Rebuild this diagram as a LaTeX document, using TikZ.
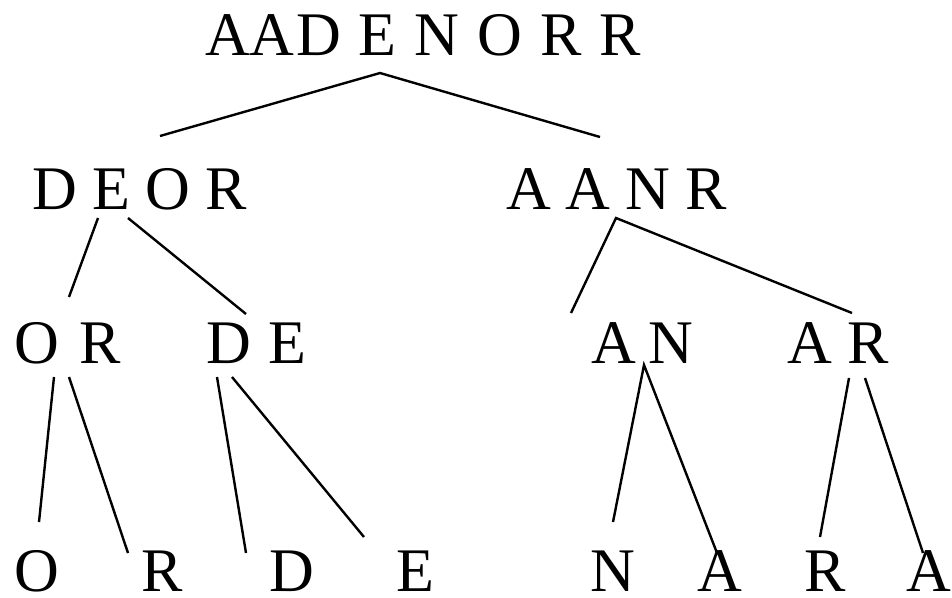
\documentclass[tikz,border=0pt]{standalone}
\usepackage{fontspec}
\setmainfont{Liberation Serif}
\begin{document}
\begin{tikzpicture}[x=1pt,y=-1pt,
  lbl/.style={anchor=base west,inner sep=0pt,outer sep=0pt,font=\fontsize{62}{70}\selectfont},
  edge/.style={line width=2.4pt,black}]
\useasboundingbox (0,0) rectangle (952,597);
% labels
\node[lbl] (root) at (205,55) {A\hspace{0pt}A\hspace{1.5pt}D\hspace{18pt}E\hspace{18pt}N\hspace{18pt}O\hspace{18pt}R\hspace{18pt}R};
\node[lbl] (deor) at (32,209) {D\hspace{15.5pt}E\hspace{15.5pt}O\hspace{15.5pt}R};
\node[lbl] (aanr) at (506,209) {A\hspace{15.2pt}A\hspace{15.2pt}N\hspace{15.2pt}R};
\node[lbl] (or) at (14.7,363) {O\hspace{19.6pt}R};
\node[lbl] (de) at (206,363) {D\hspace{17.3pt}E};
\node[lbl] (an) at (591,363) {A\hspace{12.4pt}N};
\node[lbl] (ar) at (787,363) {A\hspace{15.3pt}R};
\node[lbl,anchor=base] (o) at (37,591) {O};
\node[lbl,anchor=base] (r1) at (162.5,591) {R};
\node[lbl,anchor=base] (d) at (291.5,591) {D};
\node[lbl,anchor=base] (e) at (415.5,591) {E};
\node[lbl,anchor=base] (n) at (612.5,591) {N};
\node[lbl,anchor=base] (a1) at (720,591) {A};
\node[lbl,anchor=base] (r2) at (825,591) {R};
\node[lbl,anchor=base] (a2) at (928.5,591) {A};
% connector end points
\coordinate (rootB) at (380,73);
\coordinate (deorT) at (160,136);
\coordinate (aanrT) at (600,137);
\coordinate (deorB1) at (98,218);
\coordinate (deorB2) at (128,218);
\coordinate (orT) at (69,297);
\coordinate (deT) at (246,314);
\coordinate (aanrB) at (616,218);
\coordinate (anT) at (571,313);
\coordinate (arT) at (852,313);
\coordinate (orB1) at (54,377);
\coordinate (orB2) at (69,377);
\coordinate (oT) at (39,522);
\coordinate (r1T) at (128,553);
\coordinate (deB1) at (217,377);
\coordinate (deB2) at (232,377);
\coordinate (dT) at (246,553);
\coordinate (eT) at (364,537);
\coordinate (anB) at (644,365);
\coordinate (nT) at (613,522);
\coordinate (a1T) at (717,553);
\coordinate (arB1) at (849,378);
\coordinate (arB2) at (865,378);
\coordinate (r2T) at (820,537);
\coordinate (a2T) at (923,553);
% connectors
\draw[edge] (deorT) -- (rootB) -- (aanrT);
\draw[edge] (deorB1) -- (orT);
\draw[edge] (deorB2) -- (deT);
\draw[edge] (anT) -- (aanrB) -- (arT);
\draw[edge] (orB1) -- (oT);
\draw[edge] (orB2) -- (r1T);
\draw[edge] (deB1) -- (dT);
\draw[edge] (deB2) -- (eT);
\draw[edge] (nT) -- (anB) -- (a1T);
\draw[edge] (arB1) -- (r2T);
\draw[edge] (arB2) -- (a2T);
\end{tikzpicture}
\end{document}
